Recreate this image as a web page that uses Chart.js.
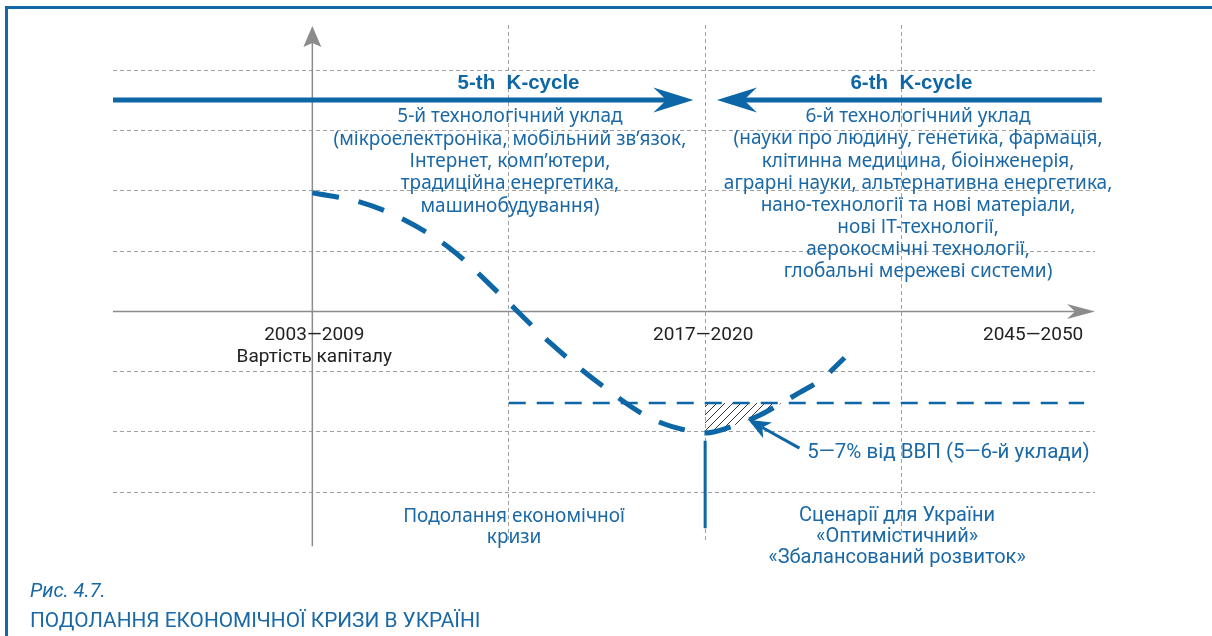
<!DOCTYPE html>
<html>
<head>
<meta charset="utf-8">
<script src="https://cdn.jsdelivr.net/npm/chart.js@4.4.0/dist/chart.umd.min.js"></script>
<style>
  html, body { margin: 0; padding: 0; background: #fff; }
  #wrap { position: relative; width: 1212px; height: 636px; overflow: hidden; }
  #frame { position: absolute; left: 5px; top: 6px; right: -10px; bottom: -10px;
           border-top: 3px solid #1268a8; border-left: 3px solid #1268a8; }
  canvas { position: absolute; left: 0; top: 0; }
  .cap { position: absolute; left: 30px; color: #1a68a6; white-space: nowrap; font-family: Roboto, sans-serif; }
</style>
</head>
<body>
<div id="wrap">
  <div id="frame"></div>
  <canvas id="chart" width="1212" height="636"></canvas>
  <div class="cap" style="top:578px;font-size:20px;font-style:italic">Рис. 4.7.</div>
  <div class="cap" style="top:608px;font-size:20.8px">ПОДОЛАННЯ ЕКОНОМІЧНОЇ КРИЗИ В УКРАЇНІ</div>
</div>
<script>
const BLUE = '#0d66a6';
const TEXT_BLUE = '#1a68a6';
const GRID = '#a0a0a0';
const AXIS = '#8c8c8c';

// grid positions (abstract period / level units)
const xGridTicks = [2, 3, 4];
const yGridTicks = [0, 1, 2, 4, 5, 6, 7];
const axisX = 1;   // where the vertical axis stands
const axisY = 3;   // where the time axis runs

// capital cost curve (dashed U)
const curveX = [1.0, 1.24, 1.45, 1.7, 1.96, 2.21, 2.47, 2.72, 2.94, 3.0, 3.17, 3.28, 3.39, 3.48, 3.6, 3.71];
const curveY = [4.97, 4.82, 4.55, 4.05, 3.27, 2.48, 1.78, 1.23, 1.0, 0.98, 1.13, 1.28, 1.48, 1.65, 1.89, 2.23];

// level line and hatched gap (5-7% of GDP)
const levelX = [2.0, 4.93];
const levelY = 1.48;
const hatchX = [3.0, 3.39, 3.28, 3.17, 3.0];
const hatchY = [1.48, 1.48, 1.28, 1.13, 0.98];

// K-cycle arrows
const cycleY = 6.51;
const cycle5X = [-0.015, 2.94];
const cycle6X = [5.02, 3.06];

// crisis bottom marker and GDP arrow
const markerX = 3.0;
const markerY = [0.85, -0.6];
const gdpArrowX = [3.48, 3.22];
const gdpArrowY = [0.73, 1.2];

// texts
const cycleTitles = ['5-th  K-cycle', '6-th  K-cycle'];
const cycleTitleX = [2.05, 4.05];
const wave5Lines = ['5-й технологічний уклад', '(мікроелектроніка, мобільний зв’язок,', 'Інтернет, комп’ютери,', 'традиційна енергетика,', 'машинобудування)'];
const wave6Lines = ['6-й технологічний уклад', '(науки про людину, генетика, фармація,', 'клітинна медицина, біоінженерія,', 'аграрні науки, альтернативна енергетика,', 'нано-технології та нові матеріали,', 'нові ІТ-технології,', 'аерокосмічні технології,', 'глобальні мережеві системи)'];
const periodLabels = ['2003—2009', '2017—2020', '2045—2050'];
const periodX = [1.01, 2.99, 4.67];
const axisTitle = 'Вартість капіталу';
const gdpLabel = '5—7% від ВВП (5—6-й уклади)';
const crisisLines = ['Подолання економічної', 'кризи'];
const scenarioLines = ['Сценарії для України', '«Оптимістичний»', '«Збалансований розвиток»'];

const pts = (xs, ys) => xs.map((x, i) => ({ x, y: Array.isArray(ys) ? ys[i] : ys }));

function hatchPattern() {
  const c = document.createElement('canvas');
  c.width = 8; c.height = 8;
  const g = c.getContext('2d');
  g.strokeStyle = '#222';
  g.lineWidth = 0.9;
  g.beginPath();
  g.moveTo(0, 8); g.lineTo(8, 0);
  g.moveTo(-2, 2); g.lineTo(2, -2);
  g.moveTo(6, 10); g.lineTo(10, 6);
  g.stroke();
  return g.createPattern(c, 'repeat');
}

// arrow heads: pull the line back to the notch, then draw a barbed head at the tip
const arrowPlugin = {
  id: 'arrowHeads',
  beforeDatasetDraw(chart, args) {
    const ds = chart.data.datasets[args.index];
    if (!ds.arrow) return;
    const { x, y } = chart.scales;
    const d = ds.data, n = d.length;
    const tip = { x: x.getPixelForValue(d[n - 1].x), y: y.getPixelForValue(d[n - 1].y) };
    const prev = { x: x.getPixelForValue(d[n - 2].x), y: y.getPixelForValue(d[n - 2].y) };
    const ang = Math.atan2(tip.y - prev.y, tip.x - prev.x);
    const back = ds.arrow.len - ds.arrow.notch;
    const el = args.meta.data[n - 1];
    el.x = tip.x - Math.cos(ang) * back;
    el.y = tip.y - Math.sin(ang) * back;
    args.meta._tip = { tip, ang };
  },
  afterDatasetDraw(chart, args) {
    const ds = chart.data.datasets[args.index];
    if (!ds.arrow || !args.meta._tip) return;
    const { tip, ang } = args.meta._tip;
    const { len, half, notch } = ds.arrow;
    const ctx = chart.ctx;
    ctx.save();
    ctx.translate(tip.x, tip.y);
    ctx.rotate(ang);
    ctx.beginPath();
    ctx.moveTo(0, 0);
    ctx.lineTo(-len, -half);
    ctx.lineTo(-len + notch, 0);
    ctx.lineTo(-len, half);
    ctx.closePath();
    ctx.fillStyle = ds.borderColor;
    ctx.fill();
    ctx.restore();
  }
};

const labelPlugin = {
  id: 'labels',
  afterDatasetsDraw(chart, args, opts) {
    const { ctx, scales: { x, y } } = chart;
    opts.blocks.forEach(b => {
      ctx.save();
      ctx.font = b.font;
      ctx.fillStyle = b.color;
      ctx.textAlign = 'center';
      ctx.textBaseline = 'middle';
      const px = x.getPixelForValue(b.x), py = y.getPixelForValue(b.y);
      b.lines.forEach((t, k) => ctx.fillText(t, px, py + k * (b.lh || 0)));
      ctx.restore();
    });
  }
};

const blueFont = '19px "Noto Sans"';
const darkFont = '19px Roboto';

new Chart(document.getElementById('chart'), {
  type: 'line',
  data: {
    datasets: [
      { data: pts(curveX, curveY), borderColor: BLUE, borderWidth: 5, borderDash: [27, 20],
        cubicInterpolationMode: 'monotone', pointRadius: 0 },
      { data: pts(levelX, levelY), borderColor: BLUE, borderWidth: 2.5, borderDash: [17, 11], pointRadius: 0 },
      { data: pts(hatchX, hatchY), borderWidth: 0, backgroundColor: hatchPattern(), fill: 'shape', pointRadius: 0, tension: 0 },
      { data: pts(cycle5X, cycleY), borderColor: BLUE, borderWidth: 5, pointRadius: 0, clip: false,
        arrow: { len: 40, half: 12.5, notch: 13 } },
      { data: pts(cycle6X, cycleY), borderColor: BLUE, borderWidth: 5, pointRadius: 0, clip: false,
        arrow: { len: 40, half: 12.5, notch: 13 } },
      { data: pts([markerX, markerX], markerY), borderColor: BLUE, borderWidth: 3, pointRadius: 0 },
      { data: pts(gdpArrowX, gdpArrowY), borderColor: BLUE, borderWidth: 3, pointRadius: 0, clip: false,
        arrow: { len: 22, half: 9, notch: 6 } },
      { data: pts([axisX, axisX], [-0.9, 7.74]), borderColor: AXIS, borderWidth: 1.5, pointRadius: 0, clip: false,
        arrow: { len: 21, half: 9, notch: 4 } },
      { data: pts([-0.015, 4.985], [axisY, axisY]), borderColor: AXIS, borderWidth: 1.5, pointRadius: 0, clip: false,
        arrow: { len: 28, half: 7.5, notch: 8 } }
    ]
  },
  options: {
    responsive: false,
    animation: false,
    layout: { padding: { left: 113, right: 117, top: 25, bottom: 94 } },
    plugins: {
      legend: { display: false },
      tooltip: { enabled: false },
      labels: {
        blocks: [
          { lines: [cycleTitles[0]], x: cycleTitleX[0], y: 6.79, font: 'bold 20.5px "Liberation Sans"', color: BLUE },
          { lines: [cycleTitles[1]], x: cycleTitleX[1], y: 6.79, font: 'bold 20.5px "Liberation Sans"', color: BLUE },
          { lines: wave5Lines, x: 2.006, y: 6.23, lh: 22.3, font: blueFont, color: TEXT_BLUE },
          { lines: wave6Lines, x: 4.084, y: 6.23, lh: 22.1, font: blueFont, color: TEXT_BLUE },
          { lines: [periodLabels[0], axisTitle], x: periodX[0], y: 2.61, lh: 22, font: darkFont, color: '#222' },
          { lines: [periodLabels[1]], x: periodX[1], y: 2.61, font: darkFont, color: '#222' },
          { lines: [periodLabels[2]], x: periodX[2], y: 2.61, font: darkFont, color: '#222' },
          { lines: [gdpLabel], x: 4.239, y: 0.648, font: '20.5px Roboto', color: TEXT_BLUE },
          { lines: crisisLines, x: 2.027, y: -0.4, lh: 21, font: blueFont, color: TEXT_BLUE },
          { lines: scenarioLines, x: 3.977, y: -0.4, lh: 21, font: '20px Roboto', color: TEXT_BLUE }
        ]
      }
    },
    scales: {
      x: {
        type: 'linear', min: -0.015, max: 4.985,
        afterBuildTicks: s => { s.ticks = xGridTicks.map(v => ({ value: v })); },
        ticks: { display: false },
        grid: { color: GRID, lineWidth: 1, drawTicks: false },
        border: { display: false, dash: [4, 3] }
      },
      y: {
        type: 'linear', min: -0.83, max: 7.757,
        afterBuildTicks: s => { s.ticks = yGridTicks.map(v => ({ value: v })); },
        ticks: { display: false },
        grid: { color: GRID, lineWidth: 1, drawTicks: false },
        border: { display: false, dash: [4, 3] }
      }
    }
  },
  plugins: [arrowPlugin, labelPlugin]
});
</script>
</body>
</html>
